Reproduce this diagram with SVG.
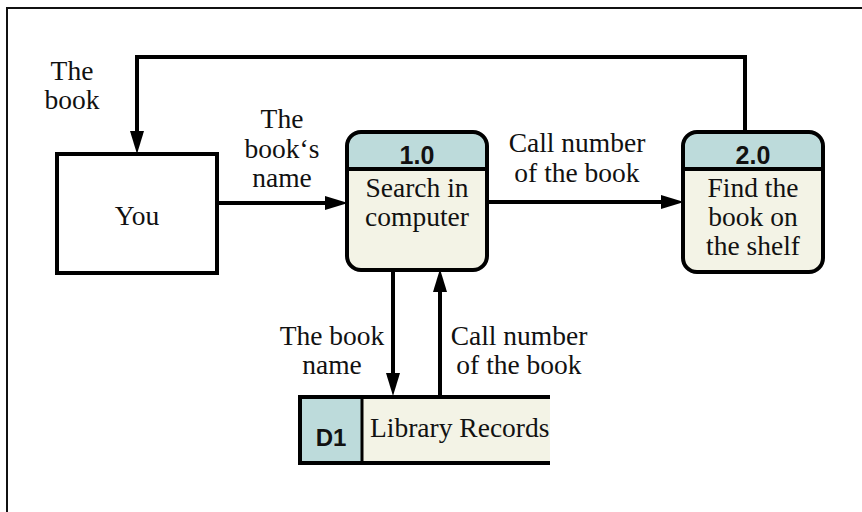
<svg xmlns="http://www.w3.org/2000/svg" width="862" height="512" viewBox="0 0 862 512">
<style>
.lbl{font-family:"Liberation Serif","Times New Roman",serif;font-size:27.5px;fill:#111;text-anchor:middle}
.num{font-family:"Liberation Sans",Arial,sans-serif;font-size:25px;font-weight:bold;fill:#111;text-anchor:middle}
.edge{fill:none;stroke:#000;stroke-width:4}
.outline{fill:none;stroke:#000;stroke-width:4}
.hdr{fill:#bddbdb}
.body{fill:#f3f3e6}
</style>
<defs>
<marker id="ah" markerUnits="userSpaceOnUse" markerWidth="24" markerHeight="16" refX="10" refY="7" orient="auto">
<path d="M0,0 L23,7 L0,14 z" fill="#000"/>
</marker>
</defs>
<rect width="862" height="512" fill="#fff"/>
<path d="M7,512 L7,8 L862,8" fill="none" stroke="#111" stroke-width="2"/>

<g id="you">
<rect x="57" y="154" width="160" height="119" fill="#fff" stroke="#000" stroke-width="4"/>
<text class="lbl" x="137" y="225">You</text>
</g>

<g id="p1">
<rect x="347" y="132" width="140" height="138" rx="14" class="body"/>
<path d="M347,169 L347,146 Q347,132 361,132 L473,132 Q487,132 487,146 L487,169 Z" class="hdr"/>
<line x1="347" y1="169" x2="487" y2="169" stroke="#000" stroke-width="4"/>
<rect x="347" y="132" width="140" height="138" rx="14" class="outline"/>
<text class="num" x="417" y="164">1.0</text>
<text class="lbl" x="417" y="197">Search in</text>
<text class="lbl" x="417" y="226">computer</text>
</g>

<g id="p2">
<rect x="683" y="132" width="140" height="140" rx="14" class="body"/>
<path d="M683,169 L683,146 Q683,132 697,132 L809,132 Q823,132 823,146 L823,169 Z" class="hdr"/>
<line x1="683" y1="169" x2="823" y2="169" stroke="#000" stroke-width="4"/>
<rect x="683" y="132" width="140" height="140" rx="14" class="outline"/>
<text class="num" x="753" y="164">2.0</text>
<text class="lbl" x="753" y="197">Find the</text>
<text class="lbl" x="753" y="226">book on</text>
<text class="lbl" x="753" y="255">the shelf</text>
</g>

<g id="d1">
<rect x="362" y="397" width="188" height="66" class="body"/>
<rect x="300" y="397" width="62" height="66" class="hdr"/>
<line x1="298" y1="397" x2="550" y2="397" stroke="#000" stroke-width="4"/>
<line x1="298" y1="463" x2="550" y2="463" stroke="#000" stroke-width="4"/>
<line x1="300" y1="397" x2="300" y2="465" stroke="#000" stroke-width="4"/>
<line x1="362" y1="397" x2="362" y2="463" stroke="#000" stroke-width="3"/>
<text class="num" x="331" y="446" style="font-size:24px">D1</text>
<text class="lbl" x="370" y="437" style="text-anchor:start">Library Records</text>
</g>

<g id="connectors">
<polyline class="edge" points="745,132 745,57 137,57 137,141" stroke-width="3.5" marker-end="url(#ah)"/>
<line class="edge" x1="217" y1="203" x2="335" y2="203" marker-end="url(#ah)"/>
<line class="edge" x1="487" y1="202" x2="671" y2="202" marker-end="url(#ah)"/>
<line class="edge" x1="393" y1="270" x2="393" y2="383" marker-end="url(#ah)"/>
<line class="edge" x1="440" y1="397" x2="440" y2="282" marker-end="url(#ah)"/>
</g>

<g id="labels">
<text class="lbl" x="72" y="80">The</text>
<text class="lbl" x="72" y="109">book</text>
<text class="lbl" x="282" y="128">The</text>
<text class="lbl" x="282" y="158">book‘s</text>
<text class="lbl" x="282" y="187">name</text>
<text class="lbl" x="577" y="152">Call number</text>
<text class="lbl" x="577" y="182">of the book</text>
<text class="lbl" x="332" y="345">The book</text>
<text class="lbl" x="332" y="374">name</text>
<text class="lbl" x="519" y="345">Call number</text>
<text class="lbl" x="519" y="374">of the book</text>
</g>
</svg>
